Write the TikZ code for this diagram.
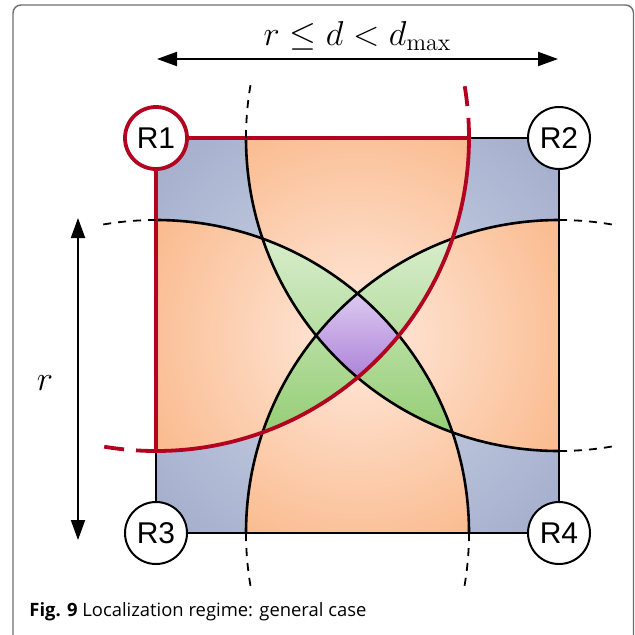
\documentclass[tikz,border=0pt]{standalone}
\usepackage{fontspec}
\usepackage{tikz}
\usetikzlibrary{arrows.meta}
\newfontfamily\labelfont{Liberation Sans}
\newfontfamily\capfont{Open Sans}
\definecolor{regred}{RGB}{178,4,32}
\definecolor{blueout}{RGB}{118,133,178}
\definecolor{bluein}{RGB}{210,216,232}
\definecolor{orangeout}{RGB}{246,150,80}
\definecolor{orangein}{RGB}{255,234,222}
\definecolor{greentop}{RGB}{250,253,248}
\definecolor{greenbot}{RGB}{116,190,74}
\definecolor{purptop}{RGB}{246,241,252}
\definecolor{purpbot}{RGB}{150,94,206}
\definecolor{framegray}{RGB}{110,110,110}
\def\rad{313}

\begin{document}
\begin{tikzpicture}[x=0.5pt,y=0.5pt,
    anchorpt/.style={circle,draw,fill=white,line width=1pt,minimum size=31pt,inner sep=0pt,font=\labelfont\fontsize{15}{18}\selectfont},
    arcline/.style={line width=1.3pt},
    extdash/.style={line width=0.9pt,dash pattern=on 4pt off 3.5pt},
    reddash/.style={regred,line width=1.9pt,dash pattern=on 10pt off 6pt},
    dim/.style={line width=1pt,>={Triangle[length=10pt,width=7pt]},<->}]

\useasboundingbox (0,0) rectangle (635,634);
\clip (0,0) rectangle (635,634);

% Cadre et legende
\draw[framegray,line width=0.7pt,rounded corners=4pt] (13,-40) rectangle (633.5,629);
\node[anchor=base west,inner sep=0pt,font=\capfont\fontsize{9.2}{11}\selectfont] (caption) at (29,18) {\textbf{Fig. 9} Localization regime: general case};

% Coins du carre
\coordinate (c1) at (156,496);
\coordinate (c2) at (559,496);
\coordinate (c3) at (156,101);
\coordinate (c4) at (559,101);
\coordinate (ctr) at (357.5,298.5);

% Regions couvertes
\begin{scope}
\clip (c3) rectangle (c2);
\shade[inner color=bluein,outer color=blueout] (ctr) circle (540);
\foreach \p/\q in {c1/c2,c1/c3,c2/c4,c3/c4}{
  \begin{scope}
  \clip (\p) circle (\rad);
  \clip (\q) circle (\rad);
  \shade[inner color=orangein,outer color=orangeout] (ctr) circle (410);
  \end{scope}
}
\foreach \p/\q/\s in {c1/c2/c3,c1/c2/c4,c1/c3/c4,c2/c3/c4}{
  \begin{scope}
  \clip (\p) circle (\rad);
  \clip (\q) circle (\rad);
  \clip (\s) circle (\rad);
  \shade[top color=greentop,bottom color=greenbot] (156,104) rectangle (559,495);
  \end{scope}
}
\begin{scope}
  \clip (c1) circle (\rad);
  \clip (c2) circle (\rad);
  \clip (c3) circle (\rad);
  \clip (c4) circle (\rad);
  \shade[top color=purptop,bottom color=purpbot] (156,212) rectangle (559,388);
\end{scope}
\foreach \p in {c2,c3,c4}
  \draw[arcline] (\p) circle (\rad);
\end{scope}

% Contours
\draw[line width=1.3pt] (c3) rectangle (c2);
\draw[regred,line width=1.9pt] (c1) -- ++(\rad,0) arc[start angle=0,end angle=-90,radius=\rad] -- cycle;

% Prolongements des arcs
\draw[reddash] (c1) ++(0:\rad) arc[start angle=0,end angle=10,radius=\rad];
\draw[reddash] (c1) ++(-90:\rad) arc[start angle=-90,end angle=-100,radius=\rad];
\foreach \p/\a/\b in {c2/180/170,c2/-90/-80,c3/90/100,c3/0/-10,c4/90/80,c4/180/190}
  \draw[extdash] (\p) ++(\a:\rad) arc[start angle=\a,end angle=\b,radius=\rad];

% Noeuds
\node[anchorpt,draw=regred,line width=1.9pt] (R1) at (c1) {R1};
\node[anchorpt] (R2) at (c2) {R2};
\node[anchorpt] (R3) at (c3) {R3};
\node[anchorpt] (R4) at (c4) {R4};

% Cotes
\coordinate (dl) at (157,575);
\coordinate (dr) at (558,575);
\draw[dim] (dl) -- (dr);
\node[font=\LARGE,anchor=base] (dlabel) at (357.5,589) {$r \le d < d_{\max}$};
\coordinate (rt) at (78,416);
\coordinate (rb) at (78,94);
\draw[dim] (rt) -- (rb);
\node[font=\LARGE] (rlabel) at (45,251) {$r$};

\end{tikzpicture}
\end{document}
